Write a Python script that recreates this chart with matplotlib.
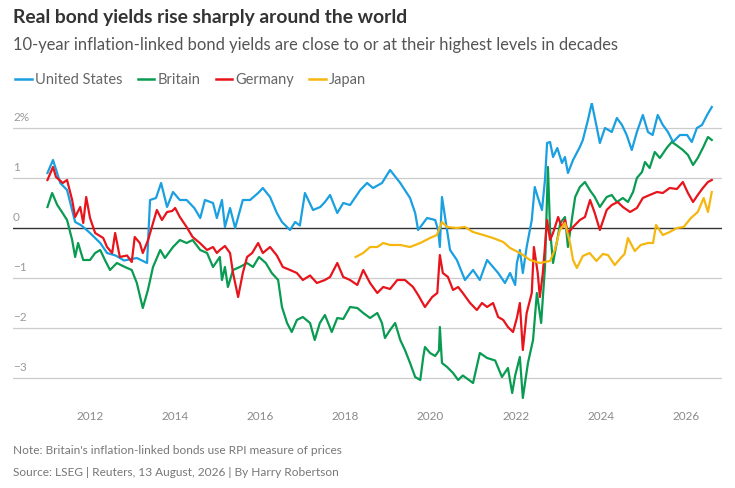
import matplotlib
matplotlib.use("Agg")
import matplotlib.pyplot as plt
from matplotlib.lines import Line2D

# ---------------- data (decimal years, real yield %) ----------------
us_t = [2011.00, 2011.13, 2011.30, 2011.46, 2011.65, 2011.80, 2012.00, 2012.24, 2012.40, 2012.60,
        2012.80, 2013.10, 2013.34, 2013.41, 2013.55, 2013.67, 2013.81, 2013.95, 2014.11, 2014.27,
        2014.45, 2014.59, 2014.70, 2014.89, 2014.98, 2015.10, 2015.17, 2015.29, 2015.41, 2015.59,
        2015.76, 2015.95, 2016.06, 2016.23, 2016.39, 2016.51, 2016.70, 2016.82, 2016.93, 2017.05,
        2017.24, 2017.41, 2017.52, 2017.64, 2017.81, 2017.95, 2018.11, 2018.35, 2018.51, 2018.65,
        2018.86, 2019.05, 2019.29, 2019.52, 2019.64, 2019.71, 2019.92, 2020.11, 2020.18, 2020.22,
        2020.27, 2020.46, 2020.62, 2020.81, 2021.00, 2021.16, 2021.33, 2021.47, 2021.59, 2021.75,
        2021.87, 2021.99, 2022.03, 2022.10, 2022.17, 2022.26, 2022.38, 2022.45, 2022.52, 2022.62,
        2022.69, 2022.74, 2022.81, 2022.88, 2022.98, 2023.09, 2023.16, 2023.23, 2023.35, 2023.51,
        2023.58, 2023.70, 2023.79, 2023.91, 2023.98, 2024.10, 2024.26, 2024.38, 2024.50, 2024.61,
        2024.73, 2024.85, 2024.99, 2025.11, 2025.22, 2025.34, 2025.46, 2025.58, 2025.70, 2025.86,
        2026.03, 2026.14, 2026.26, 2026.38, 2026.50, 2026.61]
us_v = [1.10, 1.36, 0.90, 0.76, 0.12, 0.05, -0.10, -0.30, -0.50, -0.55,
        -0.65, -0.60, -0.70, 0.56, 0.60, 0.90, 0.42, 0.72, 0.56, 0.56,
        0.40, 0.20, 0.56, 0.50, 0.20, 0.56, 0.02, 0.40, 0.00, 0.56,
        0.56, 0.70, 0.80, 0.62, 0.30, 0.12, -0.04, 0.12, 0.05, 0.70,
        0.36, 0.42, 0.52, 0.66, 0.30, 0.50, 0.46, 0.76, 0.90, 0.80,
        0.90, 1.16, 0.90, 0.60, 0.30, -0.04, 0.20, 0.16, -0.04, -0.38,
        0.62, -0.44, -0.64, -1.04, -0.84, -1.04, -0.64, -0.78, -0.90, -1.10,
        -0.90, -1.14, -0.70, -0.44, -0.90, -0.38, 0.16, 0.82, 0.62, 0.36,
        0.96, 1.70, 1.72, 1.42, 1.60, 1.30, 1.42, 1.10, 1.36, 1.62,
        1.76, 2.16, 2.50, 2.00, 1.70, 2.00, 1.92, 2.20, 2.06, 1.86,
        1.56, 1.92, 2.26, 1.92, 1.86, 2.26, 2.06, 1.92, 1.72, 1.86,
        1.86, 1.72, 2.00, 2.06, 2.26, 2.42]

uk_t = [2011.00, 2011.11, 2011.23, 2011.34, 2011.46, 2011.58, 2011.65, 2011.72, 2011.84, 2012.00,
        2012.12, 2012.24, 2012.35, 2012.47, 2012.63, 2012.82, 2012.98, 2013.10, 2013.24, 2013.36,
        2013.48, 2013.65, 2013.76, 2013.95, 2014.11, 2014.27, 2014.41, 2014.59, 2014.75, 2014.89,
        2015.05, 2015.10, 2015.17, 2015.24, 2015.36, 2015.52, 2015.69, 2015.83, 2015.97, 2016.13,
        2016.27, 2016.42, 2016.51, 2016.63, 2016.74, 2016.86, 2017.00, 2017.17, 2017.28, 2017.40,
        2017.52, 2017.68, 2017.81, 2017.95, 2018.11, 2018.28, 2018.42, 2018.58, 2018.75, 2018.86,
        2018.93, 2019.05, 2019.17, 2019.29, 2019.40, 2019.52, 2019.64, 2019.76, 2019.83, 2019.87,
        2019.99, 2020.11, 2020.20, 2020.22, 2020.27, 2020.39, 2020.53, 2020.65, 2020.76, 2021.00,
        2021.16, 2021.33, 2021.52, 2021.68, 2021.82, 2021.92, 2021.99, 2022.10, 2022.17, 2022.29,
        2022.41, 2022.50, 2022.60, 2022.69, 2022.76, 2022.81, 2022.88, 2023.05, 2023.16, 2023.23,
        2023.33, 2023.40, 2023.51, 2023.63, 2023.75, 2023.86, 2023.98, 2024.14, 2024.26, 2024.38,
        2024.52, 2024.64, 2024.76, 2024.85, 2024.97, 2025.04, 2025.15, 2025.27, 2025.39, 2025.55,
        2025.67, 2025.79, 2025.93, 2026.05, 2026.17, 2026.28, 2026.40, 2026.52, 2026.61]
uk_v = [0.42, 0.70, 0.46, 0.32, 0.16, -0.24, -0.58, -0.30, -0.64, -0.64,
        -0.50, -0.44, -0.64, -0.84, -0.70, -0.78, -0.84, -1.10, -1.60, -1.24,
        -0.78, -0.44, -0.60, -0.38, -0.24, -0.30, -0.24, -0.44, -0.50, -0.78,
        -0.58, -1.04, -0.78, -1.18, -0.84, -0.78, -0.70, -0.78, -0.58, -0.70,
        -0.90, -1.04, -1.58, -1.90, -2.08, -1.84, -1.78, -1.90, -2.24, -1.90,
        -1.74, -2.08, -1.80, -1.82, -1.58, -1.60, -1.70, -1.80, -1.70, -1.90,
        -2.20, -2.04, -1.90, -2.24, -2.44, -2.70, -2.98, -3.04, -2.58, -2.38,
        -2.50, -2.56, -2.45, -1.98, -2.70, -2.78, -2.90, -3.04, -2.95, -3.10,
        -2.50, -2.60, -2.65, -2.98, -2.80, -3.30, -2.95, -2.58, -3.40, -2.70,
        -2.24, -1.30, -1.90, -0.78, 1.22, -0.04, -0.70, 0.10, 0.22, -0.38,
        0.22, 0.62, 0.82, 0.92, 0.75, 0.62, 0.42, 0.62, 0.66, 0.52,
        0.60, 0.52, 0.72, 1.00, 1.12, 1.32, 1.20, 1.52, 1.40, 1.60,
        1.72, 1.65, 1.56, 1.46, 1.26, 1.40, 1.60, 1.82, 1.76]

de_t = [2011.00, 2011.13, 2011.20, 2011.36, 2011.46, 2011.58, 2011.65, 2011.77, 2011.84, 2011.91,
        2012.00, 2012.12, 2012.31, 2012.40, 2012.52, 2012.59, 2012.70, 2012.87, 2012.98, 2013.05,
        2013.17, 2013.24, 2013.36, 2013.48, 2013.57, 2013.69, 2013.81, 2013.93, 2014.00, 2014.11,
        2014.27, 2014.41, 2014.58, 2014.75, 2014.89, 2014.98, 2015.05, 2015.17, 2015.29, 2015.36,
        2015.48, 2015.59, 2015.69, 2015.81, 2015.95, 2016.06, 2016.23, 2016.39, 2016.53, 2016.70,
        2016.86, 2017.00, 2017.17, 2017.33, 2017.52, 2017.64, 2017.81, 2017.95, 2018.11, 2018.28,
        2018.42, 2018.58, 2018.75, 2018.89, 2019.05, 2019.22, 2019.40, 2019.59, 2019.71, 2019.87,
        2020.04, 2020.16, 2020.22, 2020.29, 2020.41, 2020.53, 2020.65, 2020.76, 2020.93, 2021.09,
        2021.21, 2021.33, 2021.47, 2021.59, 2021.71, 2021.82, 2021.94, 2022.03, 2022.10, 2022.17,
        2022.26, 2022.38, 2022.43, 2022.52, 2022.57, 2022.64, 2022.74, 2022.81, 2022.88, 2023.00,
        2023.09, 2023.16, 2023.23, 2023.35, 2023.51, 2023.63, 2023.75, 2023.86, 2023.98, 2024.14,
        2024.26, 2024.40, 2024.52, 2024.69, 2024.85, 2024.99, 2025.15, 2025.32, 2025.46, 2025.62,
        2025.79, 2025.93, 2026.05, 2026.17, 2026.28, 2026.40, 2026.52, 2026.61]
de_v = [0.96, 1.22, 1.02, 0.90, 0.96, 0.56, 0.22, 0.42, 0.10, 0.62,
        0.20, -0.10, -0.20, -0.38, -0.50, -0.10, -0.58, -0.55, -0.68, -0.18,
        -0.30, -0.50, -0.25, 0.10, 0.36, 0.16, 0.32, 0.34, 0.40, 0.22,
        0.02, -0.18, -0.30, -0.44, -0.38, -0.50, -0.44, -0.36, -0.50, -0.90,
        -1.38, -0.90, -0.58, -0.50, -0.30, -0.50, -0.38, -0.55, -0.78, -0.84,
        -0.90, -1.04, -0.95, -1.10, -1.04, -0.98, -0.70, -0.98, -1.04, -1.14,
        -0.84, -1.10, -1.30, -1.18, -1.22, -1.04, -1.04, -1.18, -1.34, -1.58,
        -1.38, -1.30, -0.54, -0.90, -0.98, -1.24, -1.18, -1.30, -1.50, -1.64,
        -1.50, -1.58, -1.50, -1.78, -1.84, -1.98, -2.08, -1.80, -1.50, -2.44,
        -1.70, -1.30, -0.38, -0.90, -1.38, -0.90, 0.16, -0.24, -0.10, 0.22,
        0.00, 0.16, -0.10, 0.02, 0.16, 0.22, 0.56, 0.30, -0.04, 0.36,
        0.46, 0.52, 0.42, 0.32, 0.40, 0.60, 0.66, 0.72, 0.70, 0.80,
        0.78, 0.92, 0.70, 0.52, 0.66, 0.80, 0.92, 0.96]

jp_t = [2018.24, 2018.42, 2018.58, 2018.75, 2018.89, 2019.05, 2019.29, 2019.52, 2019.76, 2019.99,
        2020.15, 2020.27, 2020.39, 2020.62, 2020.81, 2021.00, 2021.24, 2021.47, 2021.71, 2021.87,
        2022.10, 2022.34, 2022.57, 2022.81, 2022.92, 2023.04, 2023.16, 2023.28, 2023.35, 2023.44,
        2023.58, 2023.74, 2023.90, 2024.05, 2024.17, 2024.33, 2024.47, 2024.56, 2024.64,
        2024.80, 2024.94, 2025.11, 2025.23, 2025.30, 2025.46, 2025.62, 2025.79, 2025.95, 2026.12,
        2026.28, 2026.35, 2026.42, 2026.52, 2026.61]
jp_v = [-0.58, -0.50, -0.38, -0.38, -0.30, -0.34, -0.34, -0.38, -0.30, -0.20,
        -0.14, 0.12, 0.02, 0.00, 0.02, -0.08, -0.14, -0.20, -0.28, -0.40,
        -0.50, -0.64, -0.70, -0.66, -0.44, -0.04, 0.10, -0.30, -0.64, -0.80,
        -0.56, -0.50, -0.66, -0.52, -0.54, -0.74, -0.60, -0.52, -0.20,
        -0.46, -0.34, -0.30, -0.30, 0.06, -0.14, -0.08, 0.00, 0.02, 0.20,
        0.32, 0.46, 0.60, 0.32, 0.72]

series = [
    ("United States", us_t, us_v, "#1a9fe0"),
    ("Britain", uk_t, uk_v, "#0a9b52"),
    ("Germany", de_t, de_v, "#e8141c"),
    ("Japan", jp_t, jp_v, "#f5b70f"),
]
y_ticks = [-3, -2, -1, 0, 1, 2]
y_labels = ["\u22123", "\u22122", "\u22121", "0", "1", "2%"]
x_ticks = [2012, 2014, 2016, 2018, 2020, 2022, 2024, 2026]

title = "Real bond yields rise sharply around the world"
subtitle = "10-year inflation-linked bond yields are close to or at their highest levels in decades"
note = "Note: Britain's inflation-linked bonds use RPI measure of prices"
source = "Source: LSEG | Reuters, 13 August, 2026 | By Harry Robertson"

# ---------------- figure ----------------
W, H = 735, 488
fig = plt.figure(figsize=(W / 100, H / 100), dpi=100)
fig.patch.set_facecolor("white")

ax_l, ax_r, ax_t, ax_b = 13, 722, 103, 403
ax = fig.add_axes([ax_l / W, 1 - ax_b / H, (ax_r - ax_l) / W, (ax_b - ax_t) / H])
ax.set_xlim(2010.19, 2026.85)
ax.set_ylim(-3.5, 2.5)
for s in ax.spines.values():
    s.set_visible(False)
ax.set_xticks([])
ax.set_yticks([])

for yv, lab in zip(y_ticks, y_labels):
    if yv == 0:
        ax.axhline(0, color="#333333", lw=1.0, zorder=1)
    else:
        ax.axhline(yv, color="#cccccc", lw=0.9, zorder=1)
    ax.annotate(lab, xy=(0, yv), xycoords=("axes fraction", "data"),
                xytext=(0, 3.5), textcoords="offset points", ha="left", va="bottom",
                fontsize=8.5, color="#9a9a9a", family="Lato")

for xt in x_ticks:
    ax.annotate(str(xt), xy=(xt, 0), xycoords=("data", "axes fraction"),
                xytext=(0, -10), textcoords="offset points", ha="center", va="center",
                fontsize=8.5, color="#8a8a8a", family="Lato")

for name, t, v, c in series:
    ax.plot(t, v, color=c, lw=1.6, zorder=3, solid_joinstyle="round")

# titles
fig.text(13 / W, 1 - 18 / H, title, fontsize=13.9, fontweight="bold", color="#333333",
         family="Lato", va="center", ha="left")
fig.text(13 / W, 1 - 45 / H, subtitle, fontsize=11.9, color="#555555",
         family="Lato", va="center", ha="left")

# legend
handles = [Line2D([0], [0], color=c, lw=1.8) for _, _, _, c in series]
leg = fig.legend(handles, [s[0] for s in series], loc="center left",
                 bbox_to_anchor=(2 / W, 1 - 80 / H), ncol=4, frameon=False,
                 handlelength=1.15, handletextpad=0.2, columnspacing=1.05,
                 prop={"family": "Lato", "size": 10.5})
for txt in leg.get_texts():
    txt.set_color("#666666")

fig.text(13 / W, 1 - 451 / H, note, fontsize=8.6, color="#777777", family="Lato",
         va="center", ha="left")
fig.text(13 / W, 1 - 473 / H, source, fontsize=8.6, color="#777777", family="Lato",
         va="center", ha="left")

fig.savefig("out.png", dpi=100, facecolor="white")
